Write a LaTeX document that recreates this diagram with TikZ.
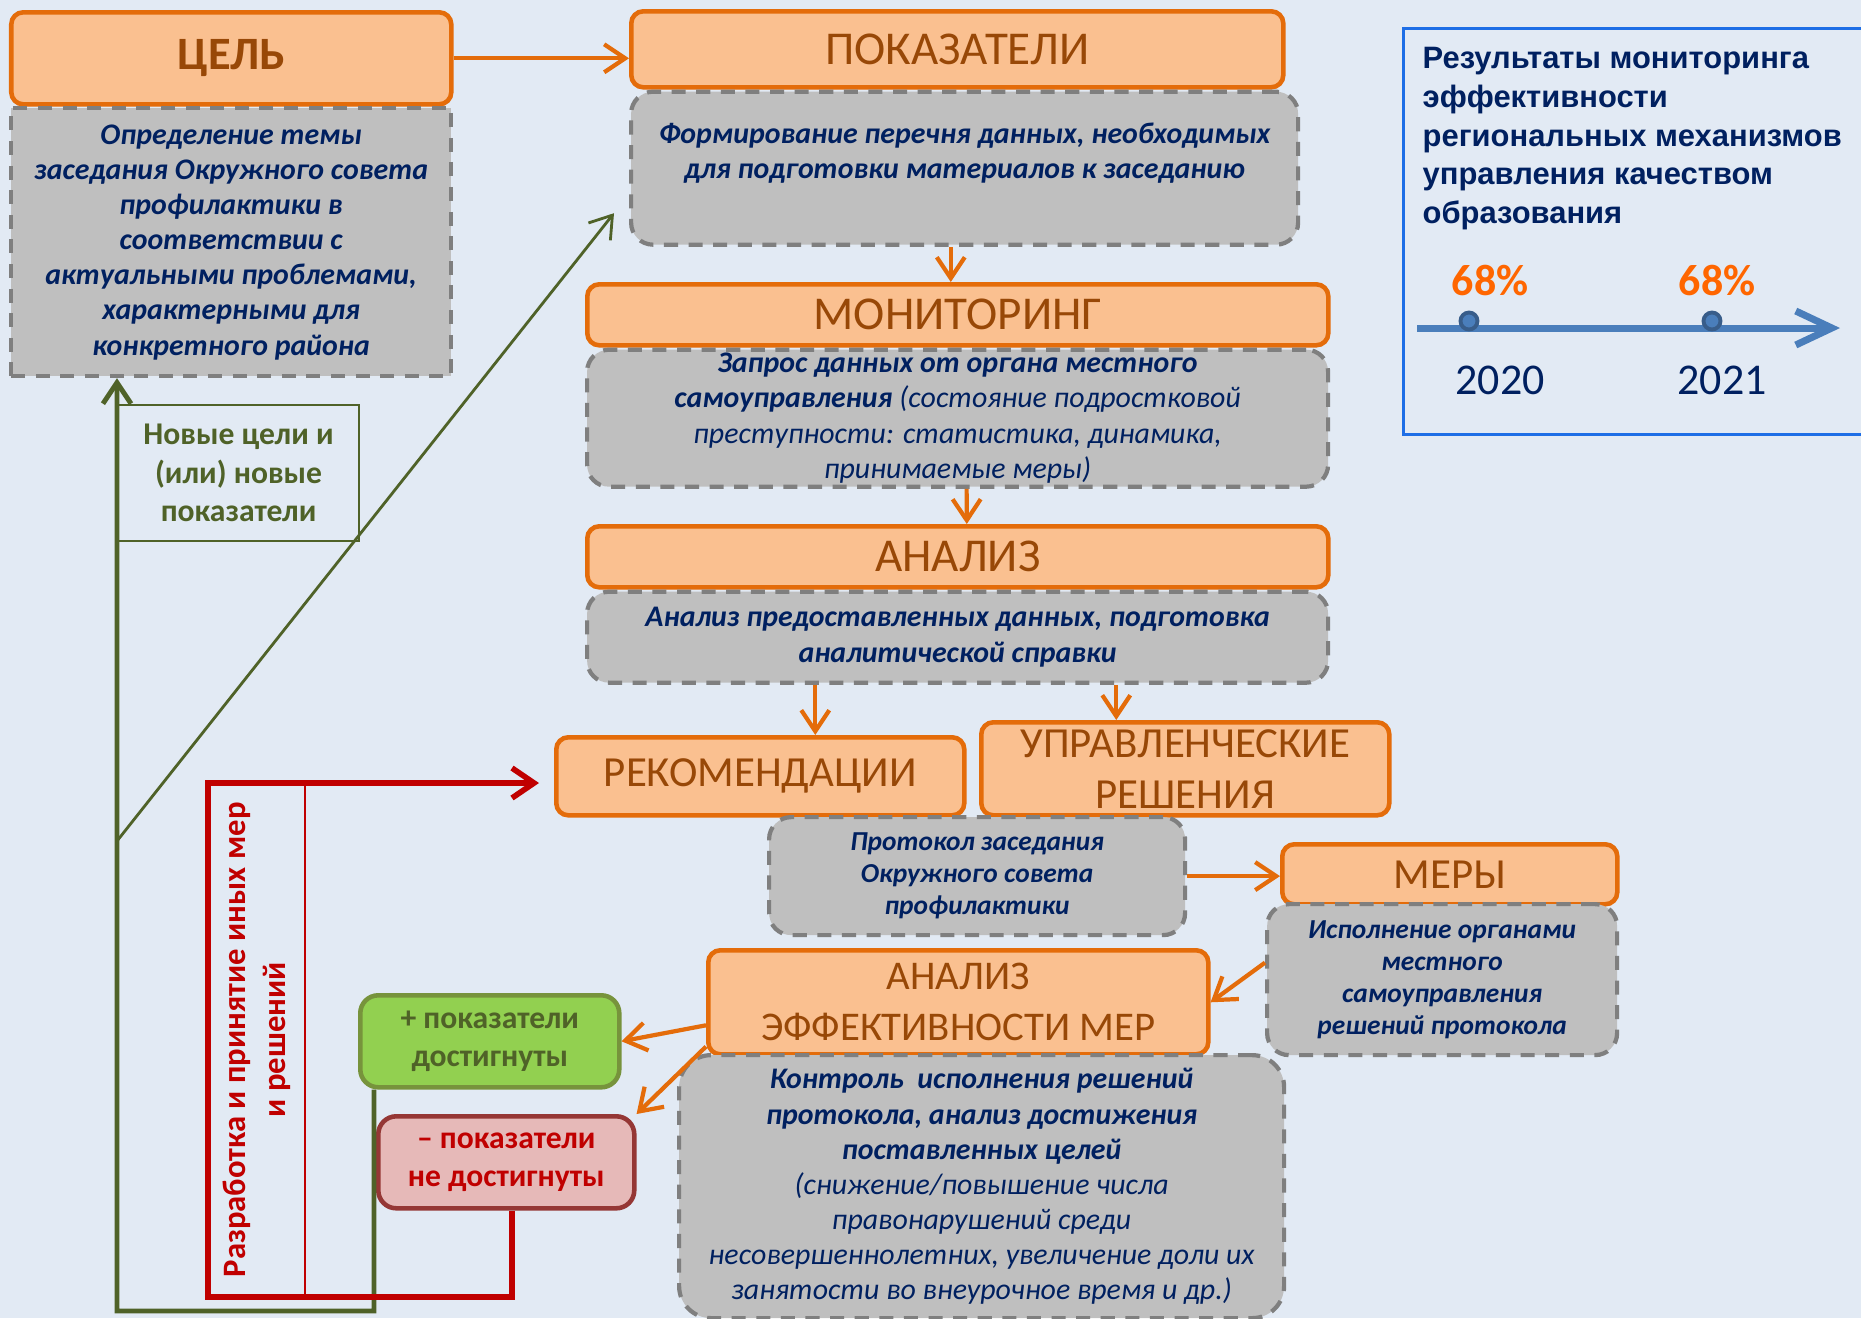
\documentclass[tikz,border=0pt]{standalone}
\usepackage{fontspec}
\setmainfont{Carlito}
\newfontfamily\panelfont{Liberation Sans}
\usepackage{graphicx}
\usepackage{tikz}
\usetikzlibrary{arrows.meta,calc,positioning}

\definecolor{bgblue}{RGB}{226,234,244}
\definecolor{boxorange}{RGB}{228,108,10}
\definecolor{boxfill}{RGB}{250,192,144}
\definecolor{boxtext}{RGB}{152,72,7}
\definecolor{descfill}{RGB}{191,191,191}
\definecolor{descline}{RGB}{127,127,127}
\definecolor{navy}{RGB}{0,32,96}
\definecolor{okfill}{RGB}{146,208,80}
\definecolor{okline}{RGB}{119,147,60}
\definecolor{olive}{RGB}{79,98,40}
\definecolor{badred}{RGB}{192,0,0}
\definecolor{badfill}{RGB}{230,185,184}
\definecolor{badline}{RGB}{149,55,53}
\definecolor{panelblue}{RGB}{30,110,230}
\definecolor{percent}{RGB}{255,102,0}
\definecolor{axisblue}{RGB}{74,126,187}
\definecolor{dotblue}{RGB}{56,93,138}

\newcommand{\setfs}[2]{\fontsize{#1}{#2}\selectfont}

\begin{document}
\begin{tikzpicture}[y=-1cm, >={Straight Barb[length=2.1mm,width=2.8mm]},
  block/.style={rectangle, rounded corners=1.2mm, draw=boxorange, fill=boxfill, line width=1.3pt, text=boxtext, inner sep=0pt, anchor=north west, align=center, font=\setfs{13.4}{15}},
  desc/.style={rectangle, rounded corners=2.2mm, draw=descline, fill=descfill, line width=1.2pt, dash pattern=on 4pt off 3pt, text=navy, inner sep=0pt, anchor=north west, align=center, font=\setfs{8.5}{10}\bfseries\itshape},
  result/.style={rectangle, rounded corners=1.8mm, line width=1.3pt, inner sep=0pt, anchor=north west, align=center, font=\setfs{9}{10.8}\bfseries},
  flow/.style={->, draw=boxorange, line width=1.2pt},
  back/.style={->, draw=olive, line width=1.4pt},
  thinback/.style={->, draw=olive, line width=0.8pt},
  redo/.style={-{Straight Barb[length=2.2mm,width=3mm]}, draw=badred, line width=1.6pt},
  dot/.style={circle, draw=dotblue, fill=axisblue, line width=1.1pt, minimum size=0.17cm, inner sep=0pt}]

\fill[bgblue] (0,0) rectangle (18.61,13.18);
\useasboundingbox (0,0) rectangle (18.61,13.18);

% goal
\node[block, font=\setfs{13.2}{15}\bfseries, minimum width=4.40cm, minimum height=0.92cm] (cel) at (0.09,0.10) {ЦЕЛЬ};
\node[desc, sharp corners, minimum width=4.40cm, minimum height=2.68cm] (celdesc) at (0.09,1.06) {Определение темы\\заседания Окружного совета\\профилактики в\\соответствии с\\актуальными проблемами,\\характерными для\\конкретного района};

% main chain
\node[block, minimum width=6.52cm, minimum height=0.76cm] (pok) at (6.29,0.09) {ПОКАЗАТЕЛИ};
\node[desc, minimum width=6.67cm, minimum height=1.53cm] (pokdesc) at (pok.south west) {Формирование перечня данных, необходимых\\для подготовки материалов к заседанию\\\mbox{}};

\node[block, minimum width=7.41cm, minimum height=0.61cm] (mon) at (5.85,2.82) {МОНИТОРИНГ};
\node[desc, minimum width=7.41cm, minimum height=1.37cm] (mondesc) at (mon.south west) {Запрос данных от органа местного\\самоуправления {\mdseries (состояние подростковой}\\\mdseries преступности: статистика, динамика,\\\mdseries принимаемые меры)};

\node[block, minimum width=7.41cm, minimum height=0.61cm] (an) at (5.85,5.24) {АНАЛИЗ};
\node[desc, minimum width=7.41cm, minimum height=0.91cm] (andesc) at (an.south west) {Анализ предоставленных данных, подготовка\\аналитической справки};

\node[block, font=\setfs{12.2}{14.5}, minimum width=4.08cm, minimum height=0.78cm] (rec) at (5.54,7.35) {РЕКОМЕНДАЦИИ};
\node[block, font=\setfs{12.2}{14.5}, minimum width=4.08cm, minimum height=0.93cm] (upr) at (9.79,7.20) {УПРАВЛЕНЧЕСКИЕ\\РЕШЕНИЯ};
\node[desc, font=\setfs{7.8}{9.1}\bfseries\itshape, minimum width=4.16cm, minimum height=1.18cm] (prot) at (7.67,8.15) {Протокол заседания\\Окружного совета\\профилактики};

\node[block, font=\setfs{12.2}{14.5}, minimum width=3.35cm, minimum height=0.60cm] (mery) at (12.80,8.42) {МЕРЫ};
\node[desc, font=\setfs{7.8}{9.1}\bfseries\itshape, minimum width=3.50cm, minimum height=1.51cm] (merydesc) at (12.65,9.02) {Исполнение органами\\местного\\самоуправления\\решений протокола};

\node[block, font=\setfs{11.6}{14.5}, minimum width=5.00cm, minimum height=1.04cm] (aem) at (7.06,9.48) {АНАЛИЗ\\ЭФФЕКТИВНОСТИ МЕР};
\node[desc, rounded corners=3.2mm, minimum width=6.05cm, minimum height=2.63cm] (ctrl) at (6.77,10.53) {Контроль\ \ исполнения решений\\протокола, анализ достижения\\поставленных целей\\\mdseries (снижение/повышение числа\\\mdseries правонарушений среди\\\mdseries несовершеннолетних, увеличение доли их\\\mdseries занятости во внеурочное время и др.)};

% results
\node[result, draw=okline, fill=okfill, text=olive, minimum width=2.59cm, minimum height=0.92cm] (plus) at (3.58,9.93) {+ показатели\\достигнуты};
\node[result, draw=badline, fill=badfill, text=badred, minimum width=2.56cm, minimum height=0.92cm] (minus) at (3.76,11.14) {– показатели\\не достигнуты};

% feedback labels
\node[draw=olive, line width=0.6pt, text=olive, inner sep=0pt, anchor=north west, align=center, font=\setfs{9}{11}\bfseries, minimum width=2.41cm, minimum height=1.36cm] (novye) at (1.17,4.04) {Новые цели и\\(или) новые\\показатели};
\node[draw=badred, line width=0.5pt, text=badred, inner sep=0pt, anchor=north west, font=\setfs{9.3}{11.4}\bfseries, minimum width=0.96cm, minimum height=5.12cm] (razr) at (2.08,7.83) {\rotatebox{90}{\parbox{5cm}{\centering Разработка и принятие иных мер\\и решений}}};

% arrows
\draw[flow] (cel.east) -- (cel.east -| pok.west);
\draw[flow] ([xshift=-0.7mm]mon.north |- pokdesc.south) -- ([xshift=-0.7mm]mon.north);
\draw[flow] ([xshift=0.9mm]mondesc.south) -- ([xshift=0.9mm]an.north);
\draw[flow] ([xshift=5.5mm]rec.north |- andesc.south) -- ([xshift=5.5mm]rec.north);
\draw[flow] ([xshift=-6.9mm]upr.north |- andesc.south) -- ([xshift=-6.9mm]upr.north);
\draw[flow] (prot.east) -- (prot.east -| mery.west);
\draw[flow] ([yshift=1.7mm]merydesc.west) -- (aem.east);
\draw[flow] ([yshift=-2.3mm]aem.west) -- (plus.east);
\draw[flow] ([yshift=1mm]aem.south west) -- (minus.north east);

\coordinate (backcorner) at (1.17,13.11);
\coordinate (fork) at (1.17,8.41);
\draw[back] ([xshift=1.6mm]plus.south west) |- (backcorner) -- ([xshift=10.8mm]celdesc.south west);
\draw[thinback] (fork) -- ([xshift=-1.5mm,yshift=-4.5mm]pokdesc.west);
\draw[redo] ([xshift=0.6mm]minus.south) |- (razr.south west) -- (razr.north west) -- ([xshift=-1.5mm]rec.west |- razr.north);

% monitoring results
\node[draw=panelblue, line width=0.8pt, inner sep=0pt, anchor=north west, minimum width=4.70cm, minimum height=4.06cm] (panel) at (14.02,0.27) {};
\node[anchor=north west, inner sep=0pt, align=left, text=navy, font=\panelfont\bfseries\setfs{8.8}{11}] (title) at (14.22,0.47) {Результаты мониторинга\\эффективности\\региональных механизмов\\управления качеством\\образования};
\coordinate (axisstart) at (14.17,3.28);
\coordinate (axisend) at (18.40,3.28);
\draw[draw=axisblue, line width=2pt, -{Straight Barb[length=3.6mm,width=3.4mm]}] (axisstart) -- (axisend);
\node[dot] (dot2020) at (14.69,3.21) {};
\node[dot] (dot2021) at (17.12,3.21) {};
\node[text=percent, font=\setfs{12.5}{15}\bfseries] (pct2020) at (14.90,2.80) {68\%};
\node[text=percent, font=\setfs{12.5}{15}\bfseries] (pct2021) at (17.17,2.80) {68\%};
\node[text=navy, font=\setfs{12.5}{15}] (y2020) at (15.00,3.80) {2020};
\node[text=navy, font=\setfs{12.5}{15}] (y2021) at (17.22,3.80) {2021};

\end{tikzpicture}
\end{document}
